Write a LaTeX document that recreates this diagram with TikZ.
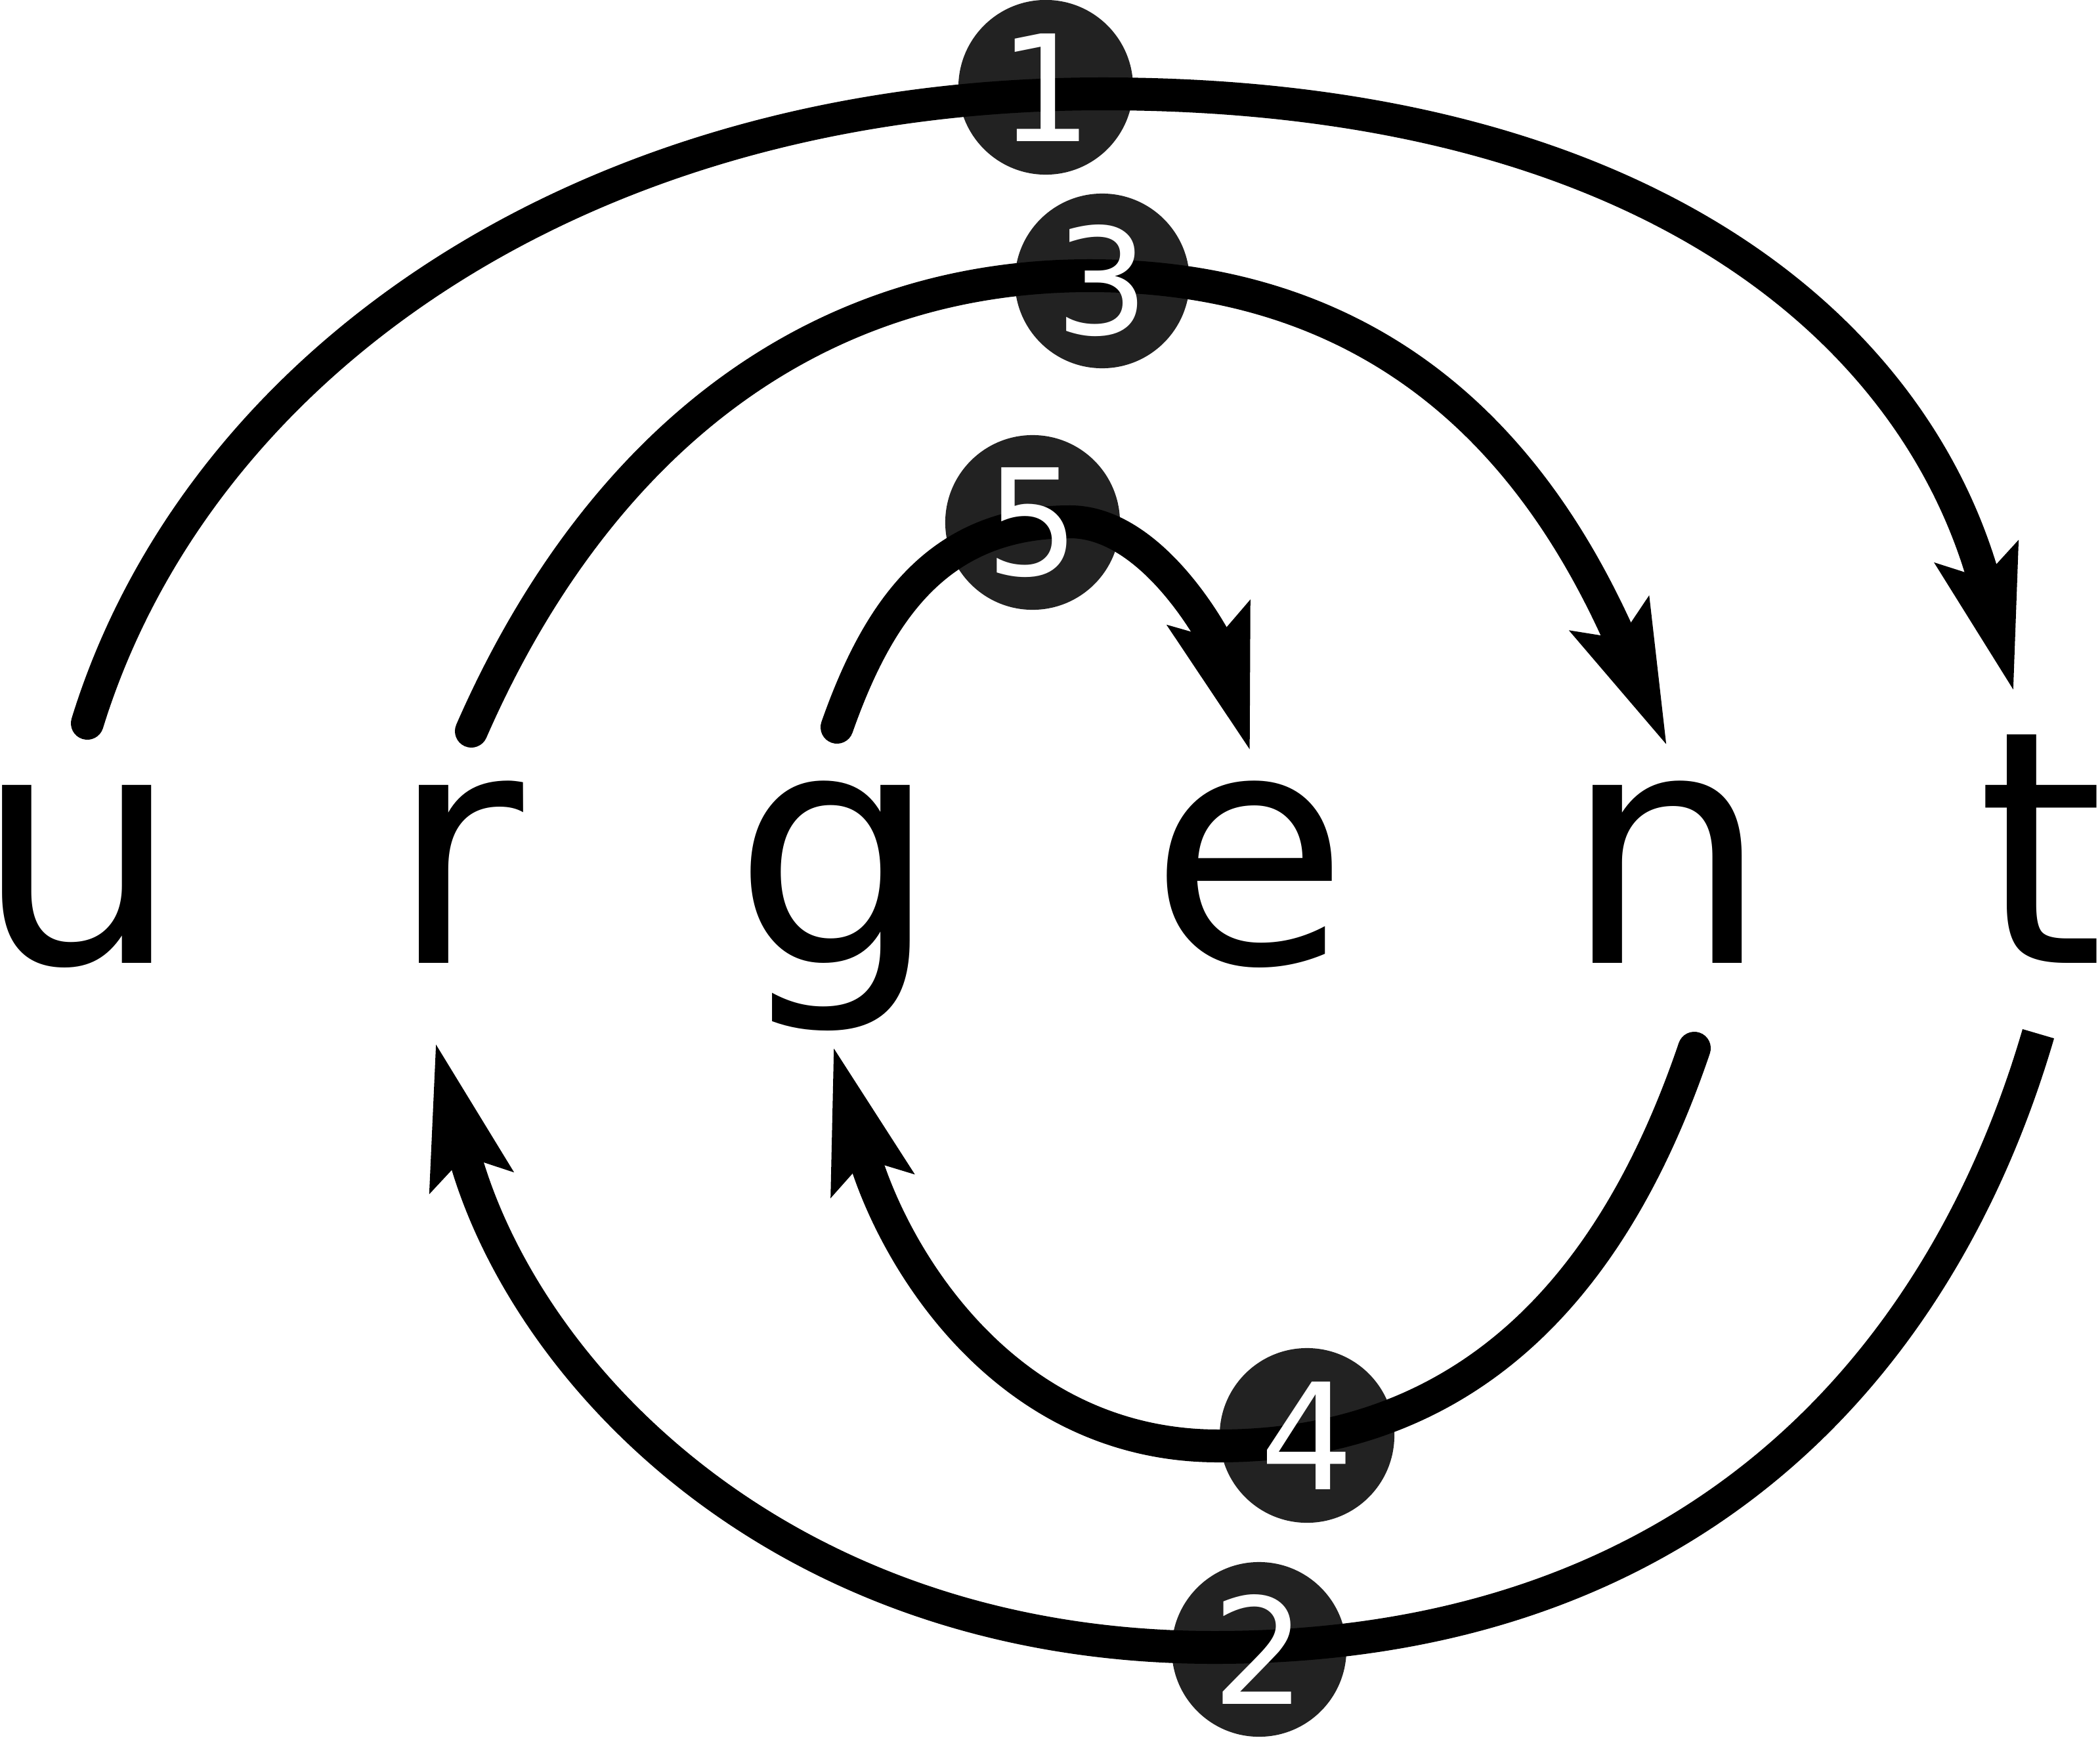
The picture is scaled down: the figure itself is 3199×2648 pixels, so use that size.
\documentclass[tikz,border=0pt]{standalone}
\usepackage{fontspec}
\setmainfont{DejaVu Sans}
\usetikzlibrary{arrows.meta}
\definecolor{badgegray}{HTML}{222222}

\begin{document}
\begin{tikzpicture}[x=0.01cm, y=-0.01cm,
		letter/.style={anchor=base, inner sep=0pt, font=\fontsize{141}{170}\selectfont},
		badge/.style={circle, fill=badgegray, minimum size=2.66cm, inner sep=0pt},
		num/.style={text=white, inner sep=0pt, font=\fontsize{64}{77}\selectfont},
		link/.style={line width=0.5cm, line cap=round, -{Stealth[length=61pt, width=35pt, inset=10pt]}}]
	
	\useasboundingbox (0,0) rectangle (3199,2648);
	
	\node[letter] (u) at (119,1467) {u};
	\node[letter] (r) at (695,1467) {r};
	\node[letter] (g) at (1274,1467) {g};
	\node[letter] (e) at (1903,1467) {e};
	\node[letter] (n) at (2539,1467) {n};
	\node[letter] (t) at (3109,1467) {t};
	
	\node[badge] (b1) at (1593,133) {};
	\node[badge] (b2) at (1918,2513) {};
	\node[badge] (b3) at (1679,428) {};
	\node[badge] (b4) at (1991,2187) {};
	\node[badge] (b5) at (1573,796) {};
	
	\coordinate (u-top) at (133,1102);
	\coordinate (r-top) at (718,1114);
	\coordinate (g-top) at (1275,1108);
	\coordinate (e-top) at (1905,1146);
	\coordinate (n-top) at (2540,1138);
	\coordinate (t-top) at (3068,1055);
	\coordinate (r-bot) at (663,1587);
	\coordinate (g-bot) at (1269,1593);
	\coordinate (n-bot) at (2581,1597);
	\coordinate (t-bot) at (3105,1575);
	
	\draw[link] (u-top) .. controls (300,560) and (880,143) .. (1680,143)
		.. controls (2500,143) and (2920,500) .. (t-top);
	\draw[link, line cap=butt] (t-bot) .. controls (2965,2055) and (2600,2510) .. (1850,2510)
		.. controls (1180,2510) and (790,2081) .. (r-bot);
	\draw[link] (r-top) .. controls (890,720) and (1200,420) .. (1660,420)
		.. controls (2160,420) and (2372,752) .. (n-top);
	\draw[link] (n-bot) .. controls (2478,1900) and (2280,2203) .. (1856,2203)
		.. controls (1532,2203) and (1360,1916) .. (g-bot);
	\draw[link] (g-top) .. controls (1338,929) and (1430,795) .. (1630,795)
		.. controls (1760,795) and (1856,983) .. (e-top);
	
	\node[num] at (b1) {1};
	\node[num] at (b2) {2};
	\node[num] at (b3) {3};
	\node[num] at (b4) {4};
	\node[num] at (b5) {5};
\end{tikzpicture}
\end{document}
